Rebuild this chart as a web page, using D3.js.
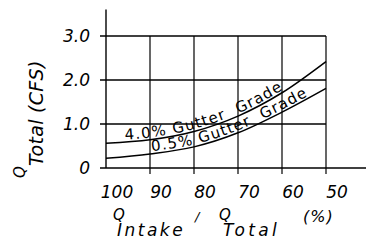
<!DOCTYPE html>
<html>
<head>
<meta charset="utf-8">
<script src="https://cdn.jsdelivr.net/npm/d3@7"></script>
<style>
    body { margin: 0; background: #fff; }
    text { font-family: "DejaVu Sans", sans-serif; fill: #000; }
</style>
</head>
<body>
<svg id="grafico" width="376" height="244"></svg>
<script>
// Valores.
const percentTicks = [100, 90, 80, 70, 60, 50];
const percentLabels = ["100", "90", "80", "70", "60", "50"];
const flowTicks = [0, 1, 2, 3];
const flowLabels = ["0", "1.0", "2.0", "3.0"];
const grade40 = [0.56, 0.64, 0.83, 1.18, 1.71, 2.42];
const grade05 = [0.22, 0.32, 0.48, 0.8, 1.27, 1.81];
const seriesNames = ["4.0% Gutter  Grade", "0.5% Gutter  Grade"];

// Onde cada rótulo começa e termina ao longo da curva (em % de Q).
const labelSpan = [[95.7, 59.8], [89.6, 54.2]];

const svg = d3.select("#grafico");

const x = d3.scaleLinear().domain([100, 50]).range([106, 326]);
const y = d3.scaleLinear().domain([0, 3]).range([168, 36]);

const g = svg.append("g");

// Grade horizontal + marcas do eixo y.
flowTicks.forEach(function (v, i) {
    g.append("line")
        .attr("x1", x(100) - 6).attr("x2", v === 0 ? x(50) + 40 : x(50))
        .attr("y1", y(v)).attr("y2", y(v))
        .attr("stroke", "#000").attr("stroke-width", 1.4);
    g.append("text")
        .attr("x", 90).attr("y", y(v) + 6)
        .attr("text-anchor", "end")
        .style("font-style", "italic")
        .style("font-size", "17px")
        .text(flowLabels[i]);
});

// Grade vertical + marcas do eixo x.
percentTicks.forEach(function (v, i) {
    g.append("line")
        .attr("x1", x(v)).attr("x2", x(v))
        .attr("y1", v === 100 ? y(3.6) : y(3))
        .attr("y2", v === 100 ? y(0) : y(0) + 6)
        .attr("stroke", "#000").attr("stroke-width", v === 100 ? 1.4 : 1.2);
    g.append("text")
        .attr("x", x(v) + 11).attr("y", 198)
        .attr("text-anchor", "middle")
        .style("font-style", "italic")
        .style("font-size", "17px")
        .text(percentLabels[i]);
});

// Curvas.
const series = [grade40, grade05];
const line = d3.line()
    .x(function (d, i) { return x(percentTicks[i]); })
    .y(function (d) { return y(d); })
    .curve(d3.curveMonotoneX);

const labelLine = d3.line()
    .x(function (d, i) { return x(percentTicks[i]); })
    .y(function (d) { return y(d) - 2.5; })
    .curve(d3.curveMonotoneX);

const defs = svg.append("defs");

function lengthAtX(node, px) {
    let lo = 0, hi = node.getTotalLength();
    for (let k = 0; k < 40; k++) {
        const mid = (lo + hi) / 2;
        if (node.getPointAtLength(mid).x < px) lo = mid; else hi = mid;
    }
    return lo;
}

series.forEach(function (valores, i) {
    g.append("path")
        .attr("d", line(valores))
        .attr("fill", "none")
        .attr("stroke", "#000")
        .attr("stroke-width", 1.5);

    const guia = defs.append("path")
        .attr("id", "guia" + i)
        .attr("d", labelLine(valores));
    const no = guia.node();
    const ini = lengthAtX(no, x(labelSpan[i][0]));
    const fim = lengthAtX(no, x(labelSpan[i][1]));

    g.append("text")
        .style("font-size", "15px")
        .attr("xml:space", "preserve")
        .append("textPath")
        .attr("href", "#guia" + i)
        .attr("startOffset", ini)
        .attr("textLength", fim - ini)
        .attr("lengthAdjust", "spacing")
        .text(seriesNames[i]);
});

// Título do eixo x: Q_Intake / Q_Total (%).
const tx = g.append("text").style("font-style", "italic");
tx.append("tspan").attr("x", 113).attr("y", 220).style("font-size", "15px").text("Q");
tx.append("tspan").attr("x", 117).attr("y", 236).style("font-size", "17px")
    .style("letter-spacing", "2.5px").text("Intake");
tx.append("tspan").attr("x", 195).attr("y", 221).style("font-size", "13px").text("/");
tx.append("tspan").attr("x", 219).attr("y", 220).style("font-size", "15px").text("Q");
tx.append("tspan").attr("x", 223).attr("y", 236).style("font-size", "17px")
    .style("letter-spacing", "3.3px").text("Total");
tx.append("tspan").attr("x", 303).attr("y", 222).style("font-size", "16px")
    .style("letter-spacing", "1px").text("(%)");

// Título do eixo y: Q_Total (CFS), girado.
const ty = g.append("text")
    .attr("transform", "rotate(-90)")
    .style("font-style", "italic");
ty.append("tspan").attr("x", -178).attr("y", 25).style("font-size", "15px").text("Q");
ty.append("tspan").attr("x", -166).attr("y", 43).style("font-size", "19px")
    .style("letter-spacing", "0.3px").text("Total (CFS)");
</script>
</body>
</html>
